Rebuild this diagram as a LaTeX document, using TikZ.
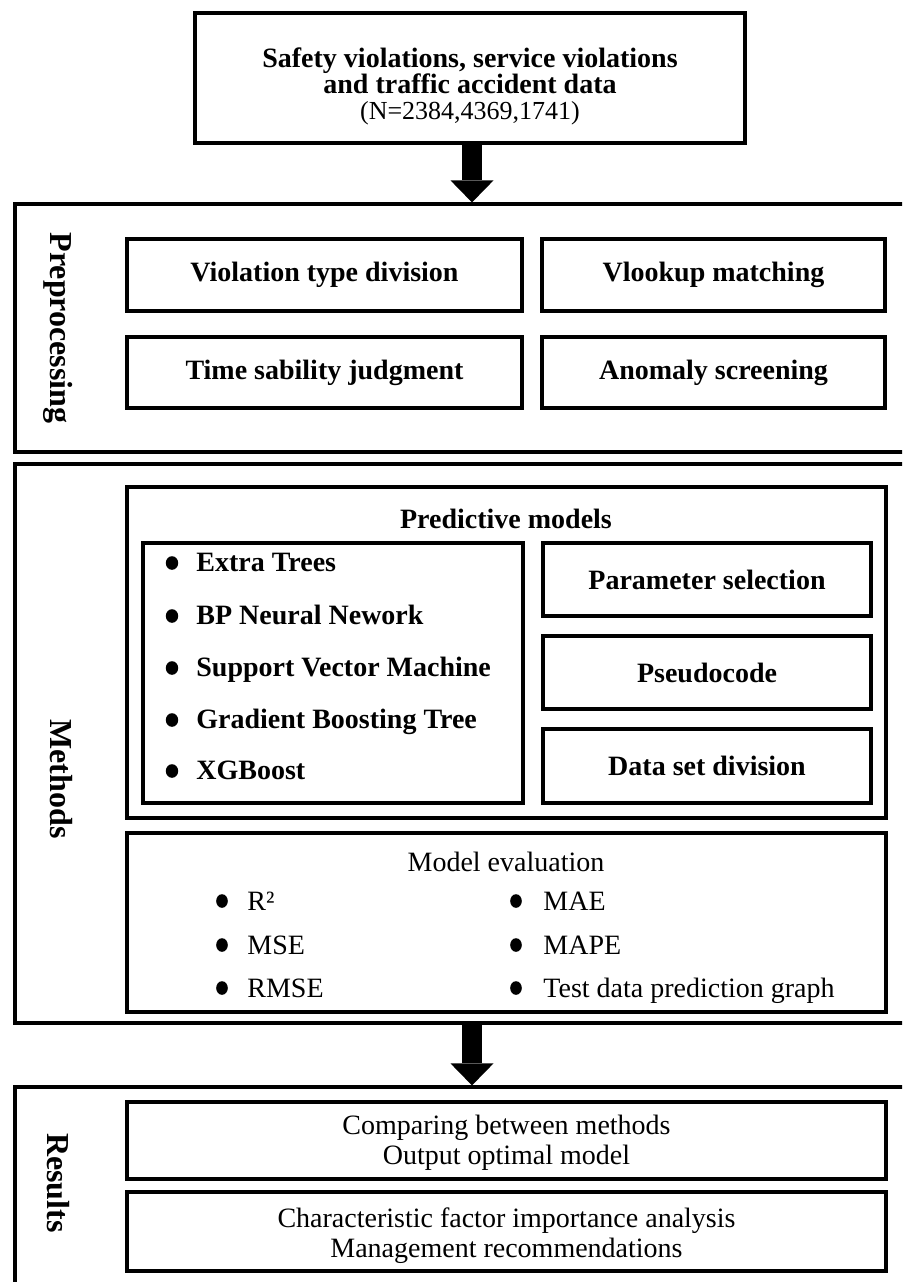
\documentclass[tikz,border=0pt]{standalone}
\usepackage{fontspec}
\setmainfont{Liberation Serif}
\usetikzlibrary{arrows.meta,fit}
\begin{document}
\begin{tikzpicture}[x=0.5pt,y=-0.5pt,
  box/.style={draw, line width=1.6pt, inner sep=0pt, rectangle},
  bt/.style={font=\fontsize{14pt}{16pt}\selectfont\bfseries, inner sep=0pt},
  rt/.style={font=\fontsize{14pt}{15pt}\selectfont, inner sep=0pt},
  side/.style={font=\fontsize{16pt}{18pt}\selectfont\bfseries, rotate=-90, inner sep=0pt},
  blockarrow/.style={line width=10pt, -{Triangle[width=21.5pt,length=11pt,line width=0pt]}}
]
\useasboundingbox (0,0) rectangle (902,1282);
\clip (0,0) rectangle (902,1282);

% source box
\node[box, fit={(195,13) (745,143)}] (src) {};
\node[align=center, inner sep=0pt, font=\fontsize{14pt}{13pt}\selectfont] (srctext) at ([yshift=-4pt]src.center)
  {\bfseries Safety violations, service violations\\ \bfseries and traffic accident data\\ {\fontsize{13pt}{13pt}\selectfont (N=2384,4369,1741)}};

% preprocessing
\node[box, fit={(15,204) (940,452)}] (pre) {};
\node[side] (prelab) at (58,328) {Preprocessing};
\node[box, fit={(127,239) (522,311)}] (vtd) {};
\node[box, fit={(542,239) (885,311)}] (vlm) {};
\node[box, fit={(127,337) (522,408)}] (tsj) {};
\node[box, fit={(542,337) (885,408)}] (ans) {};
\node[bt] (vtdt) at (vtd.center) {Violation type division};
\node[bt] (vlmt) at (vlm.center) {Vlookup matching};
\node[bt] (tsjt) at (tsj.center) {Time sability judgment};
\node[bt] (anst) at (ans.center) {Anomaly screening};

\coordinate (ax) at ([xshift=1pt]src.south);
\draw[blockarrow] (ax) -- (ax |- pre.north);

% methods
\node[box, fit={(15,464) (940,1023)}] (meth) {};
\node[side] (methlab) at (61,779) {Methods};
\node[box, fit={(127,487) (886,818)}] (pred) {};
\node[bt] (predtitle) at (506,519) {Predictive models};
\node[box, fit={(143,543) (523,803)}] (list) {};
\node[bt, anchor=base west] (m1) at (196,571) {Extra Trees};
\node[bt, anchor=base west] (m2) at (196,624) {BP Neural Nework};
\node[bt, anchor=base west] (m3) at (196,676) {Support Vector Machine};
\node[bt, anchor=base west] (m4) at (196,728) {Gradient Boosting Tree};
\node[bt, anchor=base west] (m5) at (196,779) {XGBoost};
\foreach \yy in {563,616,668,720,771}
  \fill (172,\yy) ellipse [x radius=3.1pt, y radius=3.4pt];
\node[box, fit={(543,543) (871,616)}] (par) {};
\node[box, fit={(543,636) (871,709)}] (pse) {};
\node[box, fit={(543,729) (871,803)}] (dsd) {};
\node[bt] (part) at (par.center) {Parameter selection};
\node[bt] (pset) at (pse.center) {Pseudocode};
\node[bt] (dsdt) at (dsd.center) {Data set division};

\node[box, fit={(127,833) (886,1012)}] (eval) {};
\node[rt, anchor=base] (evaltitle) at (506,871) {Model evaluation};
\node[rt, anchor=base west] (e1) at (247,910) {R²};
\node[rt, anchor=base west] (e2) at (247,954) {MSE};
\node[rt, anchor=base west] (e3) at (247,997) {RMSE};
\node[rt, anchor=base west] (e4) at (543,910) {MAE};
\node[rt, anchor=base west] (e5) at (543,954) {MAPE};
\node[rt, anchor=base west] (e6) at (543,997) {Test data prediction graph};
\foreach \yy in {901,945,988} {
  \fill (222,\yy) ellipse [x radius=2.9pt, y radius=3.4pt];
  \fill (516,\yy) ellipse [x radius=2.9pt, y radius=3.4pt];
}

% results
\node[box, fit={(15,1087) (940,1320)}] (res) {};
\draw[blockarrow] (ax |- meth.south) -- (ax |- res.north);
\node[side] (reslab) at (58,1183) {Results};
\node[box, fit={(127,1102) (886,1179)}] (cmp) {};
\node[box, fit={(127,1192) (886,1271)}] (cfa) {};
\node[rt, align=center] (cmpt) at ([yshift=-1pt]cmp.center) {Comparing between methods\\Output optimal model};
\node[rt, align=center] (cfat) at ([yshift=-2pt]cfa.center) {Characteristic factor importance analysis\\Management recommendations};
\end{tikzpicture}
\end{document}
